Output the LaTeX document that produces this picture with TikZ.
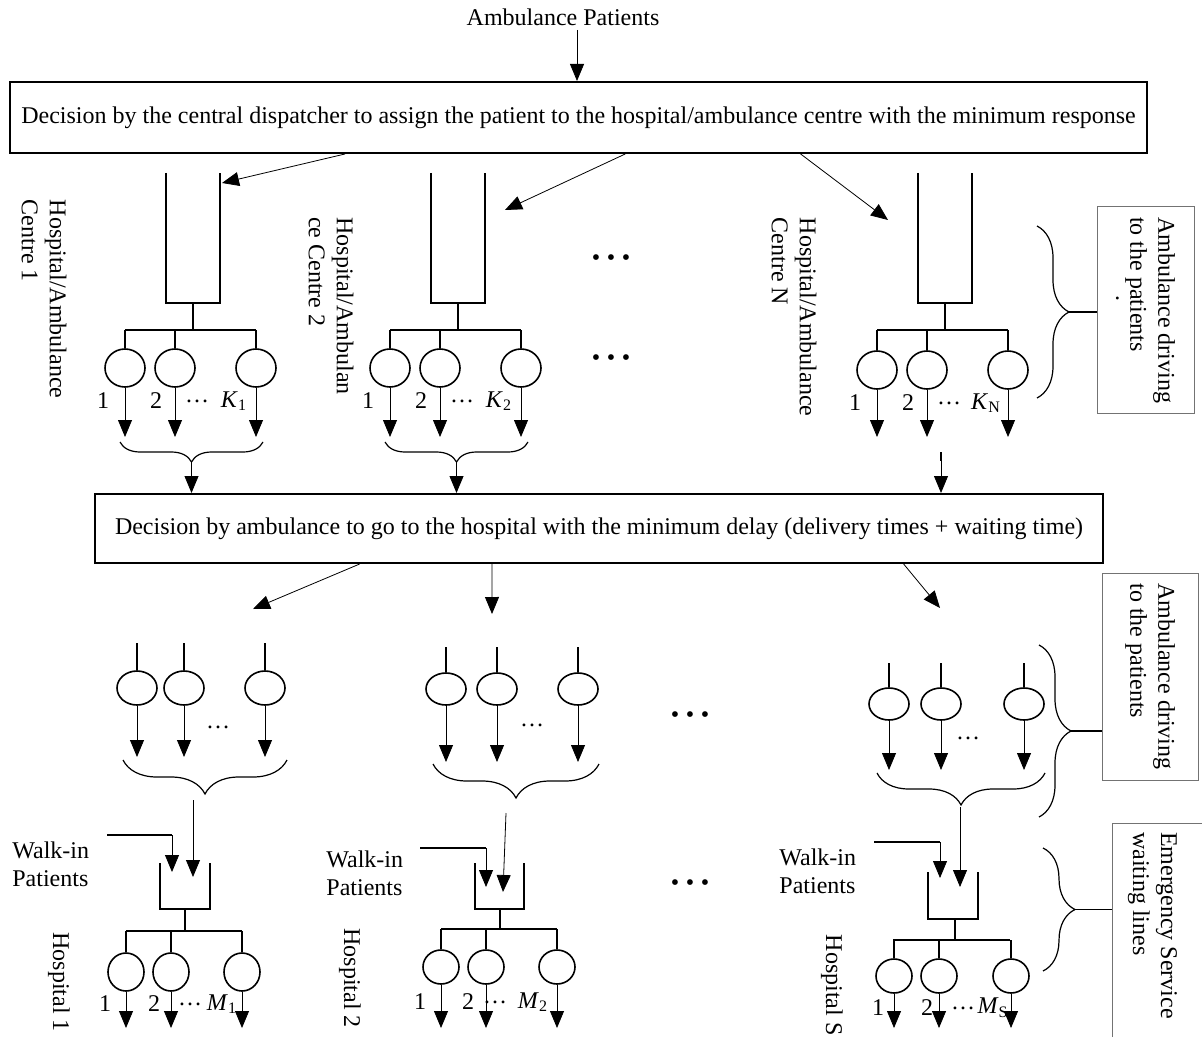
\documentclass[tikz,border=0pt]{standalone}
\usepackage{fontspec}
\setmainfont{Liberation Serif}
\usetikzlibrary{arrows.meta, shapes.geometric, decorations.pathreplacing, positioning, calc}

\tikzset{
  txt/.style={font=\fontsize{12}{14}\selectfont, inner sep=0pt},
  decision/.style={txt, draw, line width=1pt},
  server/.style={ellipse, draw, line width=0.8pt, minimum width=20pt, minimum height=19pt, inner sep=0pt},
  wall/.style={line width=1.3pt},
  feed/.style={line width=1pt},
  arr/.style={-{Triangle[length=8.5pt,width=7pt]}, line width=0.4pt},
  boxline/.style={draw=black!55, line width=0.5pt},
  sidebox/.style={txt, boxline, rotate=-90, align=left},
  sidelabel/.style={txt, rotate=-90, align=left},
  dotrow/.style={font=\fontsize{12}{12}\selectfont, inner sep=0pt},
  curly/.style={decorate, decoration={brace, amplitude=#1}, line width=0.6pt},
  curly/.default=10pt,
}
\newcommand{\threedots}{\textbullet\hspace{3.3pt}\textbullet\hspace{3.3pt}\textbullet}

\begin{document}
\begin{tikzpicture}[x=0.5pt, y=-0.5pt]
\useasboundingbox (0,0) rectangle (1202,1037);

% Incoming patients and the two decision steps
\node[txt] (amb) at (563,17) {Ambulance Patients};
\node[decision, minimum width=568.5pt, minimum height=35.5pt] (disp) at (578.5,117.5)
  {Decision by the central dispatcher to assign the patient to the hospital/ambulance centre with the minimum response};
\node[decision, minimum width=504pt, minimum height=34.5pt] (dec) at (599,528.5)
  {Decision by ambulance to go to the hospital with the minimum delay (delivery times + waiting time)};
\draw[arr] ([xshift=7pt,yshift=-2pt]amb.south) -- ([xshift=7pt]amb.south |- disp.north);

% Hospital/ambulance centres
\foreach \c/\x/\y/\ix/\iy/\f in {1/193/368/222/183/0.295, 2/458/368/505/210/0.541, N/945/370/888/220/0.695} {
  \coordinate (c\c in) at (\ix,\iy);
  \draw[arr] ($(disp.south west)!\f!(disp.south east)$) -- (c\c in);
  \draw[wall] (\x-27,173) |- (\x+27,303) -- (\x+27,173);
  \coordinate (c\c q) at (\x,303);
  \draw[feed] (c\c q) -- (\x,330);
  \draw[feed] (\x-68,330) -- (\x+63,330);
  \foreach \s/\d in {a/-68, b/-18, k/63} {
    \node[server] (c\c\s) at (\x+\d,\y) {};
    \draw[feed] (\x+\d,330) -- (c\c\s.north);
    \draw[arr] (c\c\s.south) -- (\x+\d,437);
  }
  \node[txt] (c\c n1) at (\x-90,\y+33) {1};
  \node[txt] (c\c n2) at (\x-37,\y+33) {2};
  \node[txt] (c\c nd) at (\x+4,\y+33) {\ldots};
  \node[txt] (c\c nk) at (\x+41,\y+33) {\textit{K}\textsubscript{\c}};
}

% Braces into the second decision
\foreach \c/\x in {1/193, 2/458} {
  \draw[curly, decoration={mirror}] (\x-73,442) -- coordinate[midway, yshift=-10pt] (c\c br) (\x+70,442);
  \draw[arr] (c\c br) -- (c\c br |- dec.north);
}
\coordinate (cN br) at (941,452);
\draw[feed] (cN br) -- ++(0,9);
\draw[arr] (cN br) -- (cN br |- dec.north);

\node[sidelabel] (c1lab) at (44,299) {Hospital/Ambulance\\Centre 1};
\node[sidelabel] (c2lab) at (331,306) {Hospital/Ambulan\\ce Centre 2};
\node[sidelabel] (cNlab) at (794,317) {Hospital/Ambulance\\Centre N};

\node[dotrow] (dots1) at (611,260) {\threedots};
\node[dotrow] (dots2) at (611,360) {\threedots};

% Ambulance driving note (top)
\draw[curly=16pt] (1037,226) -- coordinate[midway, xshift=16pt] (br1) (1037,398);
\node[sidebox, minimum width=103pt, minimum height=48.5pt] (drv1) at (1145.5,310)
  {Ambulance driving\\to the patients\llap{\raisebox{-7pt}{.}\hspace{25pt}}};
\draw[line width=0.6pt] (br1) -- (br1 -| drv1.south);

% Arrows to the hospitals
\coordinate (h1in) at (253,609);
\coordinate (h2in) at (492,614);
\coordinate (hSin) at (940,608);
\draw[arr] ($(dec.south west)!0.263!(dec.south east)$) -- (h1in);
\draw[arr] ($(dec.south west)!0.394!(dec.south east)$) -- (h2in);
\draw[arr] ($(dec.south west)!0.8016!(dec.south east)$) -- (hSin);

% Hospital 1
\foreach \s/\xs in {a/137, b/184, k/265} {
  \node[server, minimum height=17pt] (h1\s) at (\xs,688) {};
  \draw[feed] (\xs,643) -- (h1\s.north);
  \draw[arr] (h1\s.south) -- (\xs,757);
}
\node[txt] (h1dots) at (218,727) {\ldots};
\draw[curly=17pt, decoration={mirror}] (123,760) -- coordinate[midway, yshift=-17pt] (h1br) (287,760);
\coordinate (h1amb) at (193,800);
\draw[arr] (h1amb) -- (193,877);
\coordinate (h1walk) at (172,835);
\draw[wall] (107,835) -- (h1walk);
\draw[arr] (h1walk) -- (172,872);
\draw[wall] (160,863) |- (210,909) -- (210,863);
\coordinate (h1q) at (185,909);
\draw[feed] (h1q) -- (185,931);
\draw[feed] (126,931) -- (242,931);
\foreach \s/\xs in {a/126, b/171, m/242} {
  \node[server, minimum width=18pt, minimum height=19pt] (h1\s x) at (\xs,972) {};
  \draw[feed] (\xs,931) -- (h1\s x.north);
  \draw[arr] (h1\s x.south) -- (\xs,1028);
}
\node[txt] (h1n1) at (105,1004) {1};
\node[txt] (h1n2) at (154,1004) {2};
\node[txt] (h1nd) at (190,1004) {\ldots};
\node[txt] (h1nm) at (222,1004) {\textit{M}\textsubscript{1}};
\node[txt, align=left, anchor=west] (h1wlab) at (12,864) {Walk-in\\Patients};
\node[sidelabel] (h1lab) at (59,982) {Hospital 1};

% Hospital 2
\foreach \s/\xs in {a/446, b/497, k/578} {
  \node[server, minimum height=16pt] (h2\s) at (\xs,689) {};
  \draw[feed] (\xs,647) -- (h2\s.north);
  \draw[arr] (h2\s.south) -- (\xs,762);
}
\node[txt] (h2dots) at (532,725) {\ldots};
\draw[curly=17pt, decoration={mirror}] (433,764) -- coordinate[midway, yshift=-17pt] (h2br) (599,764);
\coordinate (h2amb) at (506,813);
\draw[arr] (h2amb) -- (503,892);
\coordinate (h2walk) at (486,848);
\draw[wall] (420,848) -- (h2walk);
\draw[arr] (h2walk) -- (486,887);
\draw[wall] (475,863) |- (524,909) -- (524,863);
\coordinate (h2q) at (500,909);
\draw[feed] (h2q) -- (500,929);
\draw[feed] (441,929) -- (557,929);
\foreach \s/\xs in {a/441, b/486, m/557} {
  \node[server, minimum width=18pt, minimum height=17pt] (h2\s x) at (\xs,967) {};
  \draw[feed] (\xs,929) -- (h2\s x.north);
  \draw[arr] (h2\s x.south) -- (\xs,1028);
}
\node[txt] (h2n1) at (420,1002) {1};
\node[txt] (h2n2) at (468,1002) {2};
\node[txt] (h2nd) at (495,1002) {\ldots};
\node[txt] (h2nm) at (533,1002) {\textit{M}\textsubscript{2}};
\node[txt, align=left, anchor=west] (h2wlab) at (326,873) {Walk-in\\Patients};
\node[sidelabel] (h2lab) at (350,978) {Hospital 2};

% Hospital S
\foreach \s/\xs in {a/889, b/941, k/1024} {
  \node[server, minimum height=16pt] (hS\s) at (\xs,704) {};
  \draw[feed] (\xs,663) -- (hS\s.north);
  \draw[arr] (hS\s.south) -- (\xs,770);
}
\node[txt] (hSdots) at (968,738) {\ldots};
\draw[curly=16pt, decoration={mirror}] (877,773) -- coordinate[midway, yshift=-16pt] (hSbr) (1045,773);
\coordinate (hSamb) at (960,807);
\draw[arr] (hSamb) -- (960,887);
\coordinate (hSwalk) at (940,842);
\draw[wall] (874,842) -- (hSwalk);
\draw[arr] (hSwalk) -- (940,878);
\draw[wall] (928,872) |- (978,919) -- (978,872);
\coordinate (hSq) at (955,919);
\draw[feed] (hSq) -- (955,940);
\draw[feed] (893,940) -- (1010,940);
\foreach \s/\xs in {a/894, b/939, m/1011} {
  \node[server, minimum width=18pt, minimum height=17pt] (hS\s x) at (\xs,976) {};
  \draw[feed] (\xs,940) -- (hS\s x.north);
  \draw[arr] (hS\s x.south) -- (\xs,1028);
}
\node[txt] (hSn1) at (878,1008) {1};
\node[txt] (hSn2) at (927,1008) {2};
\node[txt] (hSnd) at (963,1008) {\ldots};
\node[txt] (hSnm) at (993,1008) {\textit{M}\textsubscript{S}};
\node[txt, align=left, anchor=west] (hSwlab) at (779,871) {Walk-in\\Patients};
\node[sidelabel] (hSlab) at (832,985) {Hospital S};

\node[dotrow] (dots3) at (690,717) {\threedots};
\node[dotrow] (dots4) at (690,885) {\threedots};

% Notes on the right (bottom)
\draw[curly=16pt] (1039,645) -- coordinate[midway, xshift=16pt] (br2) (1039,817);
\node[sidebox, minimum width=103.5pt, minimum height=48pt] (drv2) at (1150,676.5)
  {Ambulance driving\\to the patients};
\draw[line width=0.6pt] (br2) -- (br2 -| drv2.south);

\draw[curly=16pt] (1043,848) -- coordinate[midway, xshift=16pt] (br3) (1043,971);
\draw[boxline] (1112,1037) |- (1202,823);
\coordinate (esedge) at (1112,909.5);
\node[sidelabel] (esw) at (1152.5,925.5) {Emergency Service\\waiting lines};
\draw[line width=0.6pt] (br3) -- (esedge);
\end{tikzpicture}
\end{document}
